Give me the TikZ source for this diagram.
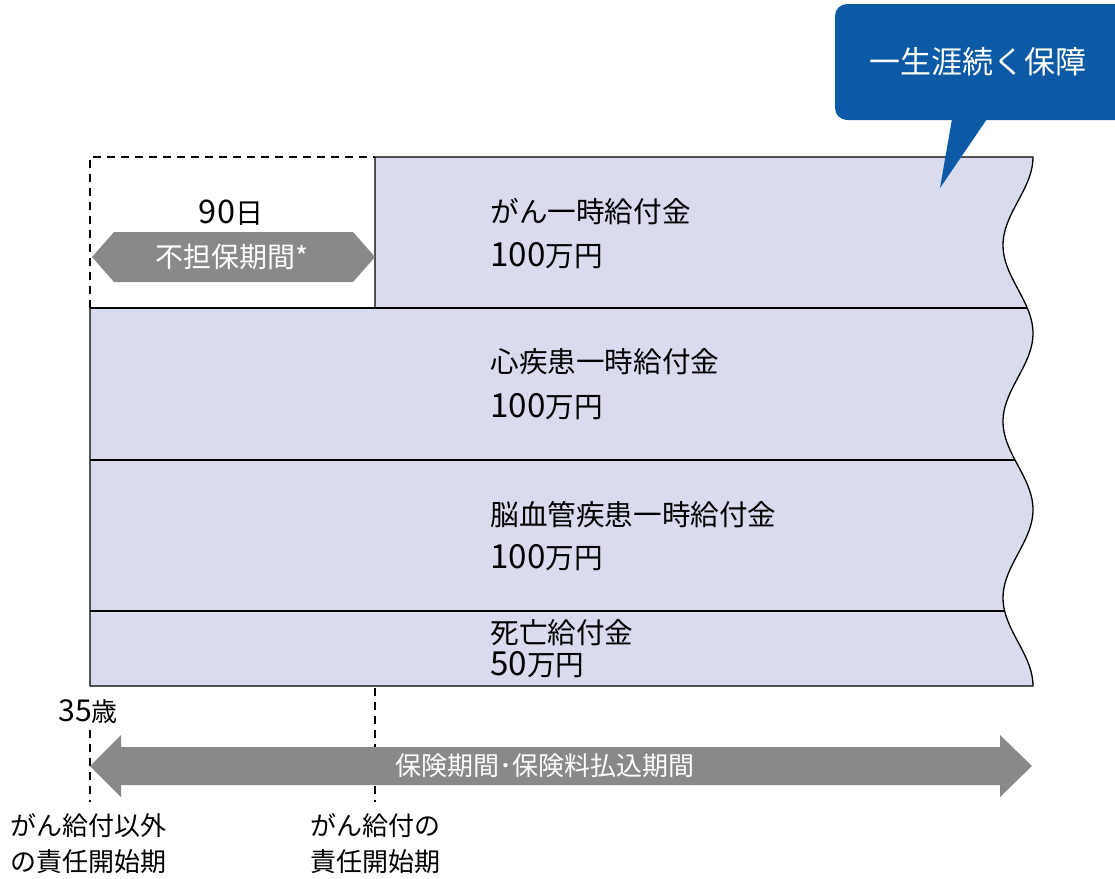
\documentclass[tikz,border=0pt]{standalone}
\usepackage{fontspec}
\setmainfont{Noto Sans CJK JP}
\definecolor{rowfill}{RGB}{217,220,238}
\definecolor{calloutblue}{RGB}{12,90,166}
\definecolor{arrowgray}{RGB}{137,137,137}
\tikzset{
  lbl/.style={anchor=west, inner sep=0pt, font=\fontsize{14.3pt}{16pt}\selectfont, text=black},
  wlbl/.style={inner sep=0pt, text=white},
  dashline/.style={draw=black, line width=0.75pt, dash pattern=on 4pt off 3pt},
  outline/.style={draw=black, line width=0.65pt},
}
\newcommand{\wavex}[1]{1018+15*cos(2.041588*(#1-157))}
\newcommand{\dg}[1]{\scalebox{1.16}{#1}}
\begin{document}
\begin{tikzpicture}[x=0.5pt,y=-0.5pt]
\useasboundingbox (0,0) rectangle (1115,879);
% dashed frame of the waiting period
\draw[dashline] (90,308) -- (90,157) -- (375,157);
% main benefit shape
\fill[rowfill] (375,157) -- plot[domain=157:686, samples=120] ({\wavex{\x}},{\x}) -- (90,686) -- (90,308) -- (375,308) -- cycle;
\draw[outline, line join=round] (375,308) -- (375,157) -- plot[domain=157:686, samples=120] ({\wavex{\x}},{\x}) -- (90,686) -- (90,308);
\draw[outline] (90,308) -- ({\wavex{308}},308);
\draw[outline] (90,460) -- ({\wavex{460}},460);
\draw[outline] (90,611) -- ({\wavex{611}},611);
% callout
\begin{scope}
\clip (0,0) rectangle (1115,879);
\fill[calloutblue, rounded corners=6pt] (835,4) rectangle (1140,120);
\end{scope}
\fill[calloutblue] (952,119) -- (940,188) -- (987,119) -- cycle;
\node[wlbl, font=\fontsize{15.5pt}{18pt}\selectfont] (callout) at (978,62) {一生涯続く保障};
% waiting period
\node[inner sep=0pt, font=\fontsize{14pt}{16pt}\selectfont] (days) at (231,213) {\dg{90}日};
\fill[arrowgray] (92,257) -- (114,232) -- (353,232) -- (375,257) -- (353,282) -- (114,282) -- cycle;
\node[wlbl, font=\fontsize{14pt}{16pt}\selectfont] (wait) at (232,257) {不担保期間*};
% row labels
\node[lbl] (r1a) at (490,212) {がん一時給付金};
\node[lbl] (r1b) at (490,256) {\dg{100}万円};
\node[lbl] (r2a) at (490,362) {心疾患一時給付金};
\node[lbl] (r2b) at (490,407) {\dg{100}万円};
\node[lbl] (r3a) at (490,515) {脳血管疾患一時給付金};
\node[lbl] (r3b) at (490,558) {\dg{100}万円};
\node[lbl] (r4a) at (490,633) {死亡給付金};
\node[lbl] (r4b) at (490,665) {\dg{50}万円};
% timeline
\draw[dashline] (90,730) -- (90,802);
\draw[dashline] (375,688) -- (375,802);
\fill[arrowgray] (90,766) -- (121,735) -- (121,747) -- (1000,747) -- (1000,735) -- (1032,766) -- (1000,797) -- (1000,785) -- (121,785) -- (121,797) -- cycle;
\node[wlbl, font=\fontsize{13pt}{15pt}\selectfont] (period) at (545,766) {保険期間･保険料払込期間};
\node[inner sep=0pt, font=\fontsize{13pt}{15pt}\selectfont] (age) at (88,712) {\dg{35}歳};
\node[anchor=west, inner sep=0pt, font=\fontsize{13pt}{15pt}\selectfont] (s1a) at (10,826) {がん給付以外};
\node[anchor=west, inner sep=0pt, font=\fontsize{13pt}{15pt}\selectfont] (s1b) at (10,862) {の責任開始期};
\node[anchor=west, inner sep=0pt, font=\fontsize{13pt}{15pt}\selectfont] (s2a) at (310,826) {がん給付の};
\node[anchor=west, inner sep=0pt, font=\fontsize{13pt}{15pt}\selectfont] (s2b) at (310,862) {責任開始期};
\end{tikzpicture}
\end{document}
